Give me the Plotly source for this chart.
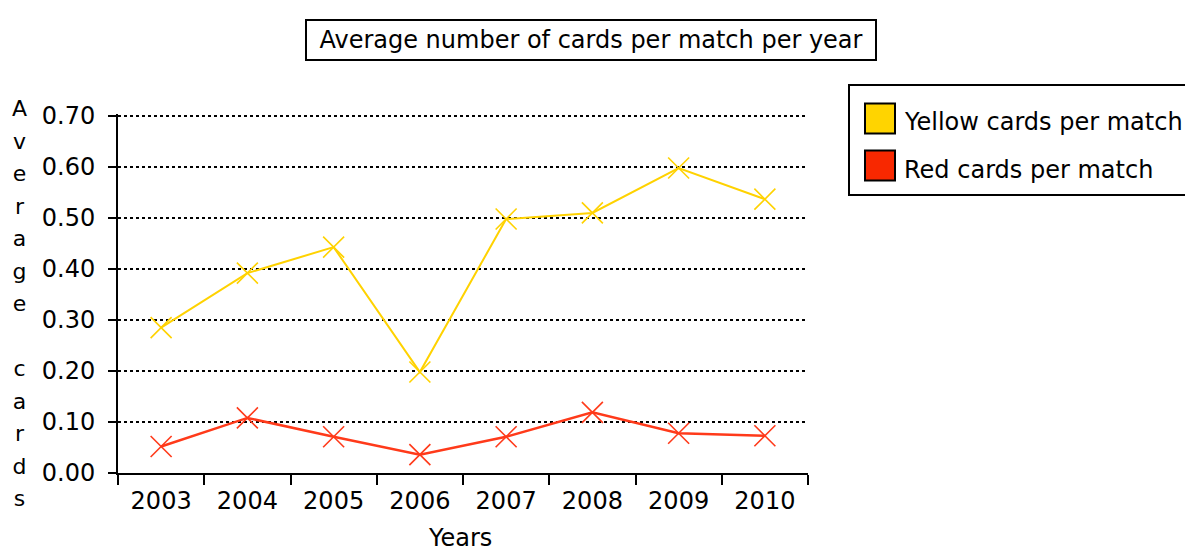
import plotly.graph_objects as go

years = ["2003", "2004", "2005", "2006", "2007", "2008", "2009", "2010"]
yellow = [0.285, 0.392, 0.443, 0.198, 0.498, 0.510, 0.598, 0.537]
red = [0.052, 0.108, 0.071, 0.036, 0.071, 0.119, 0.078, 0.073]
series_names = ["Yellow cards per match", "Red cards per match"]
title_text = "Average number of cards per match per year"
y_title = "Average cards"
x_title = "Years"

OFF = 8  # default page body margin
W, H = 1193 - OFF, 552 - OFF
# plot area in page pixel coordinates
L, R, T, B = 118, 808, 114, 473
YEL_LINE = "#FFD200"
RED_LINE = "#FF3A1A"
YEL_SW = "#FFD400"
RED_SW = "#F82800"
FONT = "DejaVu Sans"


def px(x):
    return (x - L) / (R - L)


def py(y):
    return (B - y) / (B - T)


fig = go.Figure()
fig.add_trace(go.Scatter(
    x=years, y=yellow, mode="lines+markers", name=series_names[0],
    line=dict(color=YEL_LINE, width=2),
    marker=dict(symbol="x-thin", size=21, line=dict(color=YEL_LINE, width=1.6)),
    showlegend=False))
fig.add_trace(go.Scatter(
    x=years, y=red, mode="lines+markers", name=series_names[1],
    line=dict(color=RED_LINE, width=2.5),
    marker=dict(symbol="x-thin", size=21, line=dict(color=RED_LINE, width=1.6)),
    showlegend=False))

shapes = []
annotations = []

# title box
annotations.append(dict(
    text=title_text, xref="paper", yref="paper", x=px(591), y=py(40),
    showarrow=False, font=dict(family=FONT, size=24, color="black"),
    bordercolor="black", borderwidth=2, borderpad=0, width=568, height=38,
    bgcolor="white", xanchor="center", yanchor="middle"))

# y axis title, stacked letters
letters = "<br>".join(list(y_title)).replace("<br> <br>", "<br><br>")
annotations.append(dict(
    text='<span style="font-size:22px">' + letters + "</span>",
    xref="paper", yref="paper", x=px(19), y=py(303),
    showarrow=False, font=dict(family=FONT, size=25, color="black"),
    xanchor="center", yanchor="middle"))

# x axis title
annotations.append(dict(
    text=x_title, xref="paper", yref="paper", x=px(460), y=py(538),
    showarrow=False, font=dict(family=FONT, size=24, color="black"),
    xanchor="center", yanchor="middle"))

# custom legend
shapes.append(dict(type="rect", xref="paper", yref="paper",
                   x0=px(849), x1=px(1200), y0=py(195), y1=py(85),
                   line=dict(color="black", width=2), fillcolor="white", layer="below"))
for name, col, cy in [(series_names[0], YEL_SW, 118.5), (series_names[1], RED_SW, 165.5)]:
    shapes.append(dict(type="rect", xref="paper", yref="paper",
                       x0=px(865), x1=px(895), y0=py(cy + 15), y1=py(cy - 15),
                       line=dict(color="black", width=2), fillcolor=col))
    annotations.append(dict(
        text=name, xref="paper", yref="paper", x=px(902), y=py(cy + 4),
        showarrow=False, font=dict(family=FONT, size=24, color="black"),
        xanchor="left", yanchor="middle"))

fig.update_layout(
    width=W, height=H,
    margin=dict(l=L - OFF, r=W - (R - OFF), t=T - OFF, b=H - (B - OFF)),
    paper_bgcolor="white", plot_bgcolor="white",
    shapes=shapes, annotations=annotations,
    font=dict(family=FONT, size=24, color="black"),
    xaxis=dict(
        type="category", tickson="boundaries", ticks="outside", ticklen=10,
        tickwidth=2, tickcolor="black", showline=True, linewidth=2, linecolor="black",
        showgrid=False, tickfont=dict(size=24), ticklabelstandoff=5,
        automargin=False, range=[-0.5, 7.5]),
    yaxis=dict(
        range=[0, 0.704], dtick=0.1, tickformat=".2f", ticks="outside", ticklen=8,
        tickwidth=2, tickcolor="black", showline=True, linewidth=2, linecolor="black",
        showgrid=True, gridcolor="black", gridwidth=1.5, griddash="dot",
        zeroline=False, tickfont=dict(size=24), ticklabelstandoff=8,
        automargin=False),
)

fig.write_html("out.html")
